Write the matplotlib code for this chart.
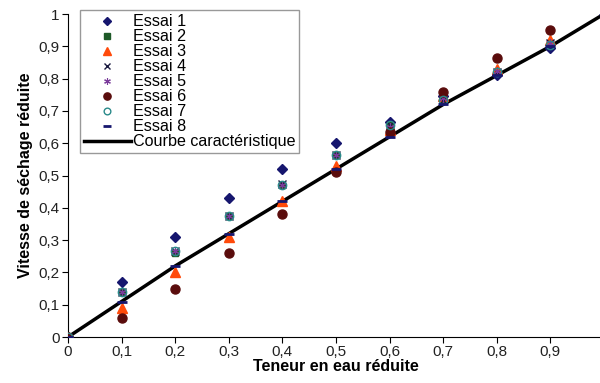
import matplotlib
matplotlib.use('Agg')
import matplotlib.pyplot as plt

plt.rcParams['font.family'] = ['Liberation Sans', 'DejaVu Sans']

x = [0, 0.1, 0.2, 0.3, 0.4, 0.5, 0.6, 0.7, 0.8, 0.9, 1.0]

essai1 = [0, 0.17, 0.31, 0.43, 0.52, 0.60, 0.665, 0.745, 0.81, 0.895]
essai2 = [0, 0.14, 0.26, 0.375, 0.47, 0.565, 0.655, 0.735, 0.82, 0.91]
essai3 = [0, 0.09, 0.20, 0.31, 0.42, 0.53, 0.64, 0.745, 0.83, 0.92]
essai4 = [0, 0.14, 0.265, 0.375, 0.475, 0.565, 0.655, 0.735, 0.82, 0.91]
essai5 = [0, 0.14, 0.265, 0.375, 0.47, 0.565, 0.65, 0.74, 0.825, 0.91]
essai6 = [0, 0.06, 0.15, 0.26, 0.38, 0.51, 0.635, 0.76, 0.865, 0.95]
essai7 = [0, 0.14, 0.265, 0.375, 0.47, 0.565, 0.655, 0.735, 0.82, 0.905]
essai8 = [0, 0.11, 0.22, 0.32, 0.42, 0.52, 0.62, 0.72, 0.81, 0.90, 1.0]
courbe = [0, 0.11, 0.22, 0.32, 0.42, 0.52, 0.62, 0.72, 0.81, 0.90, 1.0]

tick_vals = [0, 0.1, 0.2, 0.3, 0.4, 0.5, 0.6, 0.7, 0.8, 0.9, 1]
tick_labels = ['0', '0,1', '0,2', '0,3', '0,4', '0,5', '0,6', '0,7', '0,8', '0,9', '1']

fig = plt.figure(figsize=(6, 3.83), dpi=100)
ax = fig.add_axes([0.1133, 0.12, 0.8934, 0.8434])

n = len(essai1)
ax.plot(x[:n], essai1, 'D', color='#16166e', ms=5.5, label='Essai 1', zorder=3)
ax.plot(x[:n], essai2, 's', color='#1e5a28', ms=5, label='Essai 2', zorder=3)
ax.plot(x[:n], essai3, '^', color='#ff4a0a', ms=6.5, label='Essai 3', zorder=3)
ax.plot(x[:n], essai4, 'x', color='#1a1a40', ms=6, mew=1, label='Essai 4', zorder=3)
ax.plot(x[:n], essai5, color='#7a3a9a', ms=6, mew=0.8, label='Essai 5', zorder=3,
        marker=(6, 2, 0), ls='none')
ax.plot(x[:n], essai6, 'o', color='#5a0c0c', ms=6.5, label='Essai 6', zorder=3)
ax.plot(x[:n], essai7, 'o', mfc='none', mec='#2a8a8a', ms=6, label='Essai 7', zorder=3)
ax.plot(x, essai8, '_', color='#16166e', ms=7, mew=2, label='Essai 8', zorder=4)
ax.plot(x, courbe, '-', color='black', lw=2.5, label='Courbe caractéristique', zorder=2)

ax.set_xlim(0, 1)
ax.set_ylim(0, 1)
ax.set_xticks(tick_vals)
ax.set_xticklabels(tick_labels)
ax.set_yticks(tick_vals)
ax.set_yticklabels(tick_labels)
ax.tick_params(labelsize=11, length=4, pad=2, labelcolor='#222222')
ax.spines['top'].set_visible(False)
ax.spines['right'].set_visible(False)

ax.set_xlabel('Teneur en eau réduite', fontsize=11.5, fontweight='bold', labelpad=0)
ax.set_ylabel('Vitesse de séchage réduite', fontsize=11.5, fontweight='bold', labelpad=4)

leg = ax.legend(loc='upper left', bbox_to_anchor=(0.022, 1.012), fontsize=11.6,
                frameon=True, fancybox=False, edgecolor='#808080',
                handlelength=2.9, handletextpad=0.15, labelspacing=0.0,
                borderpad=0.25, borderaxespad=0, markerscale=0.8)
leg.get_frame().set_linewidth(1)

fig.savefig('out.png', dpi=100)
